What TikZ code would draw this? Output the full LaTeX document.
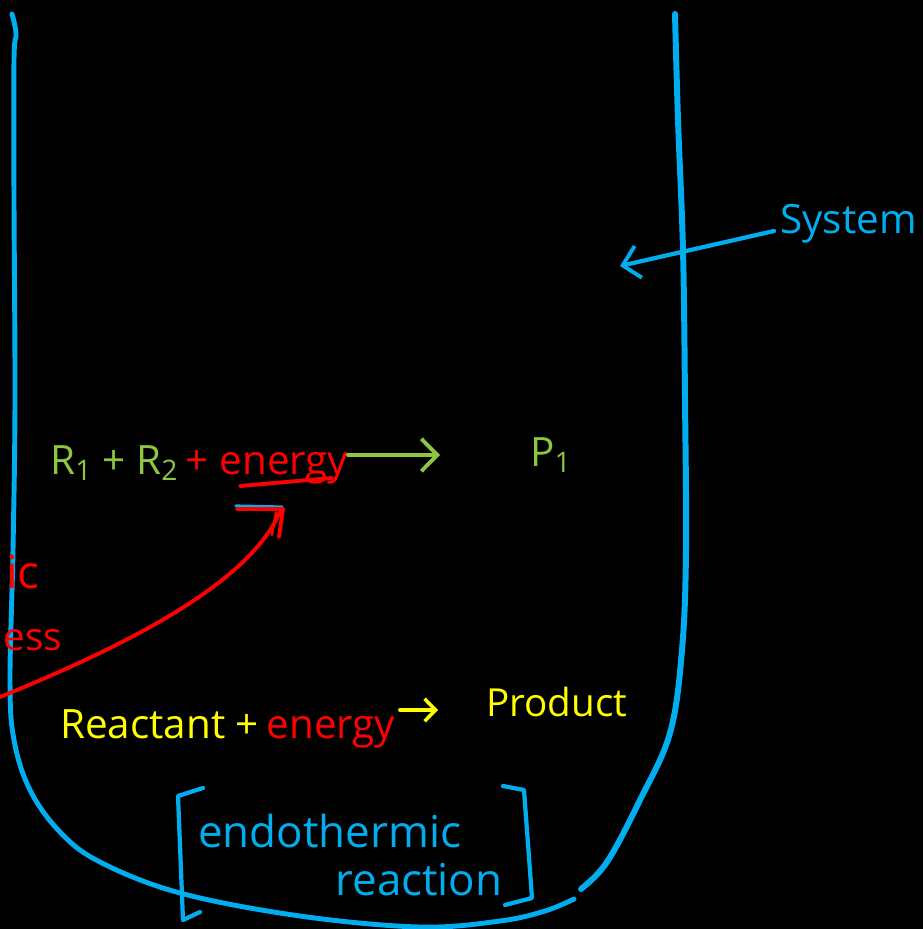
\documentclass[tikz,border=0pt]{standalone}
\usepackage{fontspec}
\setmainfont{Open Sans}
\usetikzlibrary{arrows.meta}
\definecolor{skyb}{HTML}{00AEEF}
\definecolor{limeg}{HTML}{8DC63F}
\definecolor{yel}{HTML}{FFFF00}
\definecolor{redd}{HTML}{FF0000}
\tikzset{
  vessel/.style={draw=skyb,line width=2.8pt,line cap=round,line join=round},
  bluepen/.style={draw=skyb,line width=2.4pt,line cap=round,line join=round},
  redpen/.style={draw=redd,line width=2.2pt,line cap=round,line join=round},
  greenpen/.style={draw=limeg,line width=2.2pt,line cap=round,line join=round},
  yelpen/.style={draw=yel,line width=2.2pt,line cap=round,line join=round},
  lbl/.style={inner sep=0pt,anchor=base west},
  barb/.style={-{Straight Barb[length=3.2mm,width=6.5mm,line width=2.2pt]}}
}
\begin{document}
\begin{tikzpicture}[x=0.02cm,y=-0.02cm]
\fill[black] (0,0) rectangle (923,929);
\useasboundingbox (0,0) rectangle (923,929);

% vessel
\draw[vessel] plot[smooth,tension=0.6] coordinates {(12,14) (16,34) (14,60) (14,200) (15,400) (13,550) (10,680) (14,740) (30,790) (60,832) (100,862) (180,893) (300,916) (420,927) (500,921) (545,911) (574,899)};
\draw[vessel,line width=3.4pt] plot[smooth,tension=0.6] coordinates {(675,14) (678,120) (683,250) (685,400) (686,550) (682,650) (670,733) (640,800) (607,862) (581,889)};

% System label and arrow
\node[lbl,text=skyb,font=\fontsize{23}{26}\selectfont] (sys) at (780,234) {System};
\coordinate (sysstart) at (774,231);
\coordinate (systip) at (620,266);
\draw[bluepen,barb] (sysstart) -- (systip);

% first equation
\node[lbl,text=limeg,font=\fontsize{23}{26}\selectfont] (r12) at (50,474) {R\textsubscript{1} + R\textsubscript{2}};
\node[lbl,text=redd,font=\fontsize{23}{26}\selectfont] (en1) at (r12.base east) {\,+ energy};
\coordinate (ar1s) at (348,455);
\coordinate (ar1e) at (440,455);
\draw[greenpen,barb] (ar1s) -- (ar1e);
\node[lbl,text=limeg,font=\fontsize{23}{26}\selectfont] (p1) at (530,466) {P\textsubscript{1}};
\coordinate (ul1) at (240,486);
\coordinate (ul2) at (332,478);
\draw[redpen] (ul1) -- (ul2);

% red side text at left edge
\node[lbl,text=redd,font=\fontsize{26}{30}\selectfont] (ic) at (6,588) {ic};
\node[lbl,text=redd,font=\fontsize{22}{26}\selectfont] (ess) at (3,650) {ess};

% red curved arrow
\coordinate (cvs) at (0,697);
\coordinate (cvt) at (280,512);
\draw[bluepen,line width=1.8pt] (236,506) -- (282,507);
\draw[redpen] (cvs) .. controls (140,640) and (250,580) .. (cvt);
\draw[redpen] (237,509) -- (283,509) -- (279,537);
\draw[redpen,line width=1.4pt] (276,512) -- (272,535);

% second equation
\node[lbl,text=yel,font=\fontsize{23}{26}\selectfont] (react) at (60,738) {Reactant +};
\node[lbl,text=redd,font=\fontsize{23}{26}\selectfont] (en2) at (react.base east) {\,energy};
\coordinate (ar2s) at (400,710);
\coordinate (ar2e) at (438,710);
\draw[yelpen,-{Straight Barb[length=2.2mm,width=4.5mm,line width=2pt]}] (ar2s) -- (ar2e);
\node[lbl,text=yel,font=\fontsize{22}{26}\selectfont] (prod) at (486,716) {Product};

% endothermic reaction
\node[lbl,text=skyb,font=\fontsize{25}{28}\selectfont] (endo) at (198,847) {endothermic};
\node[lbl,text=skyb,font=\fontsize{25}{28}\selectfont] (reac) at (335,895) {reaction};
\draw[bluepen] (203,788) -- (178,796) -- (183,920) -- (200,912);
\draw[bluepen] (503,786) -- (524,790) -- (532,898) -- (505,905);

\end{tikzpicture}
\end{document}
